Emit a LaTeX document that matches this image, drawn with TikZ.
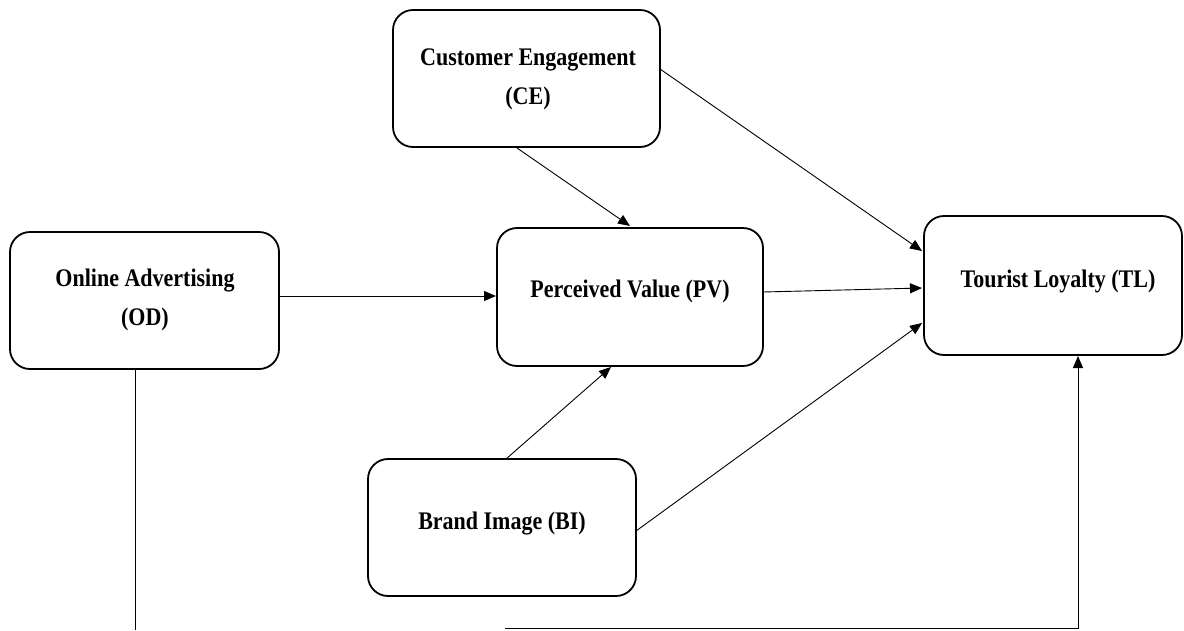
\documentclass[tikz,border=0pt]{standalone}
\usepackage{fontspec}
\usepackage{graphicx}
\setmainfont{Liberation Serif}
\usetikzlibrary{arrows.meta}
\newcommand{\tallt}[1]{\scalebox{1}[1.15]{#1}}
\begin{document}
\begin{tikzpicture}[x=1pt,y=-1pt,
  box/.style={draw,line width=1.8pt,rounded corners=20pt,fill=none},
  lbl/.style={font=\bfseries\fontsize{22}{39}\selectfont,align=center,inner sep=0pt},
  conn/.style={line width=0.9pt,-{Triangle[length=12pt,width=10pt]}},
  plain/.style={line width=0.9pt}]
\useasboundingbox (0,0) rectangle (1184,630);
% boxes
\draw[box] (393,10) rectangle (660,147);
\node[lbl] (ce) at (528,79) {\tallt{Customer Engagement}\\\tallt{(CE)}};
\draw[box] (10,232) rectangle (279,369);
\node[lbl] (od) at (145,300) {\tallt{Online Advertising}\\\tallt{(OD)}};
\draw[box] (497,228) rectangle (763,366);
\node[lbl] (pv) at (630,291) {\tallt{Perceived Value (PV)}};
\draw[box] (924,216) rectangle (1182,355);
\node[lbl] (tl) at (1058,281) {\tallt{Tourist Loyalty (TL)}};
\draw[box] (368,459) rectangle (636,596);
\node[lbl] (bi) at (502,524) {\tallt{Brand Image (BI)}};
% connection points
\coordinate (ceB) at (517,148);
\coordinate (pvT) at (630,226);
\coordinate (ceR) at (660,69);
\coordinate (tlA) at (922,251);
\coordinate (odR) at (279,296);
\coordinate (pvL) at (496,296);
\coordinate (pvR) at (763,292);
\coordinate (tlB) at (922,288);
\coordinate (biT) at (506,459);
\coordinate (pvB) at (611,367);
\coordinate (biR) at (636,531);
\coordinate (tlC) at (922,323);
\coordinate (odB) at (135,369);
\coordinate (odE) at (135,630);
\coordinate (bS) at (505,628);
\coordinate (bC) at (1078,628);
\coordinate (tlD) at (1078,356);
% connectors
\draw[conn] (ceB) -- (pvT);
\draw[conn] (ceR) -- (tlA);
\draw[conn] (odR) -- (pvL);
\draw[conn] (pvR) -- (tlB);
\draw[conn] (biT) -- (pvB);
\draw[conn] (biR) -- (tlC);
\draw[plain] (odB) -- (odE);
\draw[conn] (bS) -- (bC) -- (tlD);
\end{tikzpicture}
\end{document}
